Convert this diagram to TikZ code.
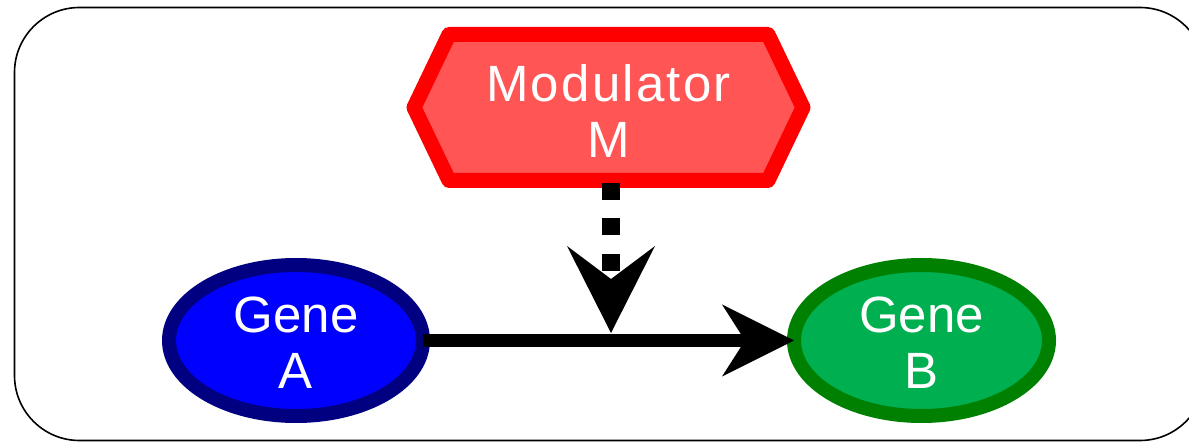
\documentclass[tikz,border=0pt]{standalone}
\usepackage{fontspec}
\newfontfamily\labelfont{Liberation Sans}
\usetikzlibrary{arrows.meta,backgrounds,shapes.geometric}

\definecolor{modfill}{HTML}{FF5555}
\definecolor{modline}{HTML}{FF0000}
\definecolor{geneafill}{HTML}{0000FF}
\definecolor{genealine}{HTML}{000080}
\definecolor{genebfill}{HTML}{00B050}
\definecolor{genebline}{HTML}{008000}

\begin{document}
\begin{tikzpicture}[x=1pt,y=-1pt,
  labeltext/.style={text=white, align=center, inner sep=0pt, outer sep=0pt,
    font=\labelfont\fontsize{51}{56}\selectfont},
  gene/.style={ellipse, labeltext, line width=14pt,
    minimum width=254pt, minimum height=151pt},
  modbox/.style={rectangle, labeltext, minimum width=319pt, minimum height=146pt},
  activation/.style={line width=13.5pt,
    -{Stealth[length=72pt,width=72pt,inset=23pt,line width=0pt]}},
  modulation/.style={line width=18pt, dash pattern=on 17pt off 18.5pt, dash phase=33pt,
    -{Stealth[length=87pt,width=88pt,inset=33pt,line width=0pt]}}
]
\useasboundingbox (0,0) rectangle (1189,443);

% modulator label (the hexagon is drawn around it on the background layer)
\node[modbox] (mod) at (608.5,107.5)
  {\rule{0pt}{44.5pt}{\addfontfeature{LetterSpace=4.4}Modulator\hspace{-2.2pt}}\\M};

% the two genes
\node[gene, draw=genealine, fill=geneafill] (geneA) at (296,340.5) {\rule{0pt}{41pt}Gene\\A};
\node[gene, draw=genebline, fill=genebfill, minimum width=255pt] (geneB) at (921.5,340.5) {\rule{0pt}{41pt}Gene\\B};

\begin{pgfonlayer}{background}
  % frame
  \draw[line width=1.6pt, rounded corners=65pt] (14.5,7.5) rectangle (1205,440.5);
  % hexagonal modulator shape
  \draw[line width=15pt, line join=round, draw=modline, fill=modfill]
    (mod.north west) -- (mod.north east) -- ([xshift=35pt]mod.east)
    -- (mod.south east) -- (mod.south west) -- ([xshift=-35pt]mod.west) -- cycle;
\end{pgfonlayer}

% point on the A -> B edge where the modulation acts
\coordinate (hit) at (611,333);

\draw[activation] (geneA.east) -- (geneB.west);
\draw[modulation] (mod.south -| hit) -- (hit);
\end{tikzpicture}
\end{document}
